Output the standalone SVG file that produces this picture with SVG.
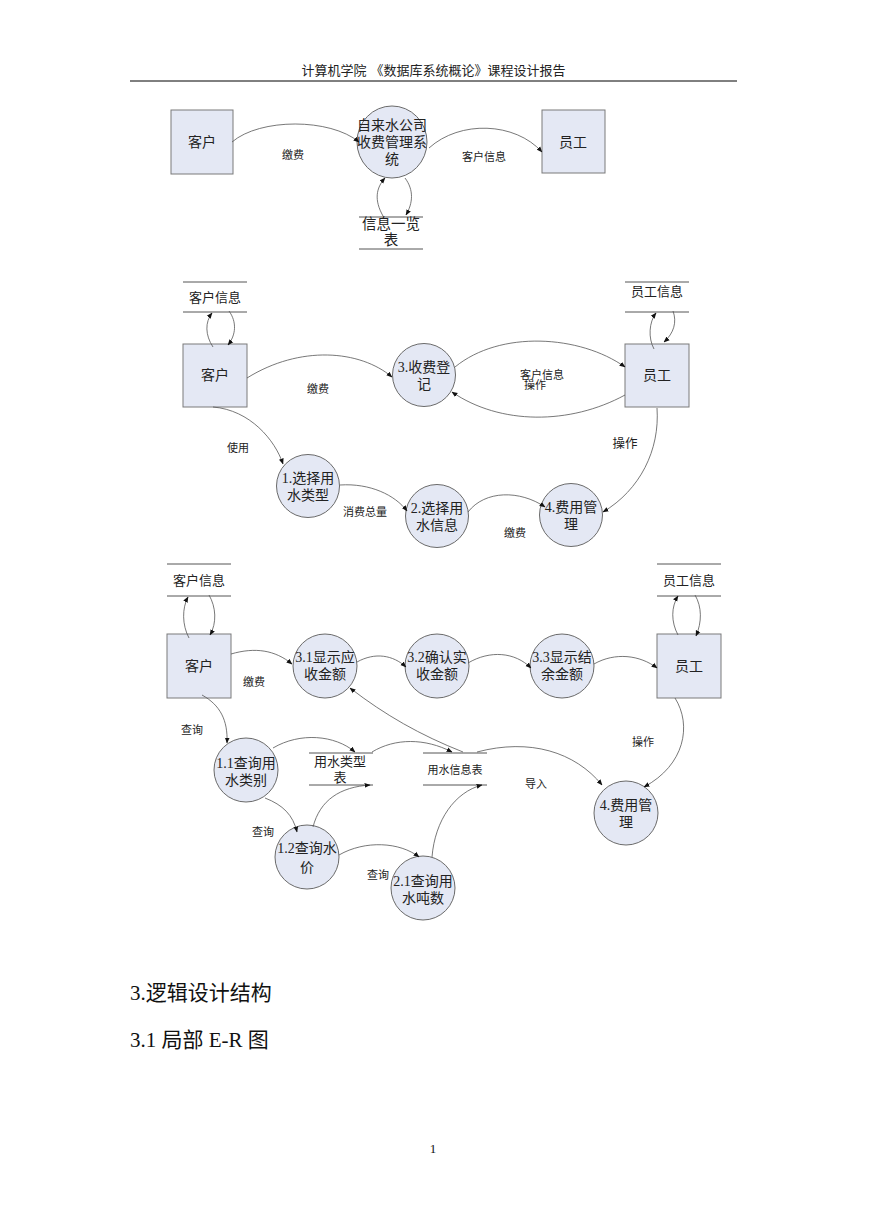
<svg xmlns="http://www.w3.org/2000/svg" width="869" height="1228" viewBox="0 0 869 1228">
<defs>
<marker id="ah" viewBox="0 0 10 10" refX="9" refY="5" markerUnits="userSpaceOnUse" markerWidth="6" markerHeight="6" orient="auto"><path d="M0,1 L10,5 L0,9 z" fill="#111"/></marker>
<style>
.t{font-family:'Liberation Serif','Noto Sans CJK SC',serif;fill:#222;text-anchor:middle}
.n{font-size:14px}
.s{font-size:13px}
.l{font-size:11px}
.box{fill:#E4E8F4;stroke:#7a7a7a;stroke-width:1}
.proc{fill:#E4E8F4;stroke:#6a6a6a;stroke-width:1}
.st{stroke:#555;stroke-width:1}
.c{fill:none;stroke:#555;stroke-width:0.8;marker-end:url(#ah)}
</style>
</defs>
<rect width="869" height="1228" fill="#fff"/>
<g id="header">
<text class="t" x="334" y="75" font-size="13">计算机学院</text>
<text class="t" x="468" y="75" font-size="13">《数据库系统概论》课程设计报告</text>
<line x1="130" y1="81" x2="737" y2="81" stroke="#000" stroke-width="1"/>
</g>
<!-- top diagram -->
<g id="top-customer"><rect class="box" x="171" y="110" width="62" height="64"/><text class="t n" x="202" y="147">客户</text></g>
<g id="top-system"><ellipse class="proc" cx="392" cy="142" rx="35" ry="36"/><text class="t n" x="392" y="130">自来水公司</text><text class="t n" x="392" y="147">收费管理系</text><text class="t n" x="392" y="164">统</text></g>
<g id="top-staff"><rect class="box" x="542" y="110" width="63" height="63"/><text class="t n" x="573" y="147">员工</text></g>
<g id="top-store"><line class="st" x1="359" y1="217" x2="423" y2="217"/><line class="st" x1="359" y1="249" x2="423" y2="249"/><text class="t" font-size="14.5" x="391" y="229">信息一览</text><text class="t" font-size="14.5" x="391" y="245">表</text></g>
<!-- middle diagram -->
<g id="mid-custinfo"><line class="st" x1="183" y1="282" x2="247" y2="282"/><line class="st" x1="183" y1="312" x2="247" y2="312"/><text class="t s" x="215" y="302">客户信息</text></g>
<g id="mid-customer"><rect class="box" x="183" y="344" width="64" height="63"/><text class="t n" x="215" y="380">客户</text></g>
<g id="mid-p3"><circle class="proc" cx="424" cy="375" r="31.5"/><text class="t n" x="424" y="372">3.收费登</text><text class="t n" x="424" y="389">记</text></g>
<g id="mid-staff"><rect class="box" x="625" y="344" width="64" height="63"/><text class="t n" x="657" y="380">员工</text></g>
<g id="mid-staffinfo"><line class="st" x1="625" y1="282" x2="689" y2="282"/><line class="st" x1="625" y1="312" x2="689" y2="312"/><text class="t s" x="657" y="296">员工信息</text></g>
<g id="mid-p1"><circle class="proc" cx="308" cy="486" r="31.5"/><text class="t n" x="308" y="483">1.选择用</text><text class="t n" x="308" y="500">水类型</text></g>
<g id="mid-p2"><circle class="proc" cx="437" cy="516" r="31.5"/><text class="t n" x="437" y="513">2.选择用</text><text class="t n" x="437" y="530">水信息</text></g>
<g id="mid-p4"><circle class="proc" cx="571" cy="515" r="31.5"/><text class="t n" x="571" y="512">4.费用管</text><text class="t n" x="571" y="529">理</text></g>
<!-- bottom diagram -->
<g id="bot-custinfo"><line class="st" x1="167" y1="564" x2="231" y2="564"/><line class="st" x1="167" y1="596" x2="231" y2="596"/><text class="t s" x="199" y="585">客户信息</text></g>
<g id="bot-customer"><rect class="box" x="167" y="634" width="64" height="64"/><text class="t n" x="199" y="671">客户</text></g>
<g id="bot-p31"><circle class="proc" cx="325" cy="666" r="32"/><text class="t n" x="325" y="662">3.1显示应</text><text class="t n" x="325" y="679">收金额</text></g>
<g id="bot-p32"><circle class="proc" cx="437" cy="666" r="32"/><text class="t n" x="437" y="662">3.2确认实</text><text class="t n" x="437" y="679">收金额</text></g>
<g id="bot-p33"><circle class="proc" cx="562" cy="666" r="32"/><text class="t n" x="562" y="662">3.3显示结</text><text class="t n" x="562" y="679">余金额</text></g>
<g id="bot-staff"><rect class="box" x="657" y="634" width="64" height="64"/><text class="t n" x="689" y="671">员工</text></g>
<g id="bot-staffinfo"><line class="st" x1="657" y1="564" x2="721" y2="564"/><line class="st" x1="657" y1="596" x2="721" y2="596"/><text class="t s" x="689" y="585">员工信息</text></g>
<g id="bot-p11"><circle class="proc" cx="246" cy="770" r="32"/><text class="t n" x="246" y="768">1.1查询用</text><text class="t n" x="246" y="785">水类别</text></g>
<g id="bot-typestore"><line class="st" x1="309" y1="753" x2="373" y2="753"/><line class="st" x1="309" y1="785" x2="373" y2="785"/><text class="t s" x="340" y="766">用水类型</text><text class="t s" x="340" y="782">表</text></g>
<g id="bot-infostore"><line class="st" x1="423" y1="753" x2="487" y2="753"/><line class="st" x1="423" y1="785" x2="487" y2="785"/><text class="t l" x="455" y="774">用水信息表</text></g>
<g id="bot-p12"><circle class="proc" cx="307" cy="857" r="32"/><text class="t n" x="307" y="853">1.2查询水</text><text class="t n" x="307" y="872">价</text></g>
<g id="bot-p21"><circle class="proc" cx="423" cy="888" r="32"/><text class="t n" x="423" y="886">2.1查询用</text><text class="t n" x="423" y="903">水吨数</text></g>
<g id="bot-p4"><circle class="proc" cx="626" cy="813" r="32"/><text class="t n" x="626" y="810">4.费用管</text><text class="t n" x="626" y="827">理</text></g>
<g id="connectors">
<path class="c" d="M232,142 C260,118 330,118 359,142"/>
<path class="c" d="M429,148 C460,120 515,122 542,152"/>
<path class="c" d="M383,216 C374,200 376,188 385,178"/>
<path class="c" d="M405,178 C414,190 413,203 406,215"/>
<path class="c" d="M213,347 C205,335 205,322 212,313"/>
<path class="c" d="M229,311 C237,322 236,335 228,345"/>
<path class="c" d="M247,378 C300,345 360,350 392,377"/>
<path class="c" d="M455,367 C500,330 580,335 625,367"/>
<path class="c" d="M625,395 C570,425 500,425 452,392"/>
<path class="c" d="M654,349 C648,338 649,322 656,313"/>
<path class="c" d="M673,311 C677,322 674,333 664,342"/>
<path class="c" d="M213,407 C250,410 275,440 283,464"/>
<path class="c" d="M340,485 C370,483 395,495 407,511"/>
<path class="c" d="M468,512 C485,490 520,490 545,507"/>
<path class="c" d="M657,408 C660,450 640,490 603,512"/>
<path class="c" d="M189,638 C182,625 182,608 188,597"/>
<path class="c" d="M209,595 C216,607 217,623 210,635"/>
<path class="c" d="M231,654 C255,647 275,650 292,664"/>
<path class="c" d="M357,662 C375,652 393,655 406,667"/>
<path class="c" d="M468,663 C490,650 515,652 531,668"/>
<path class="c" d="M594,664 C615,652 640,655 657,668"/>
<path class="c" d="M678,635 C671,622 671,607 678,596"/>
<path class="c" d="M695,595 C702,607 702,622 696,636"/>
<path class="c" d="M675,698 C692,725 685,765 644,787"/>
<path class="c" d="M202,695 C220,705 228,720 227,743"/>
<path class="c" d="M273,748 C300,732 335,735 355,752"/>
<path class="c" d="M372,752 C395,738 425,738 452,752"/>
<path class="c" d="M463,752 C420,735 385,715 350,688"/>
<path class="c" d="M477,752 C530,738 575,752 602,785"/>
<path class="c" d="M265,798 C283,805 293,815 297,832"/>
<path class="c" d="M313,827 C320,800 340,787 370,785"/>
<path class="c" d="M339,855 C365,840 400,842 419,857"/>
<path class="c" d="M432,857 C435,820 455,792 482,785"/>
</g>
<g id="labels">
<text class="t l" x="293" y="159">缴费</text>
<text class="t l" x="484" y="161">客户信息</text>
<text class="t l" x="318" y="393">缴费</text>
<text class="t l" x="542" y="379">客户信息</text>
<text class="t l" x="535" y="389">操作</text>
<text class="t l" x="238" y="452">使用</text>
<text class="t l" x="365" y="516">消费总量</text>
<text class="t l" x="515" y="537">缴费</text>
<text class="t" font-size="12.5" x="625" y="448">操作</text>
<text class="t l" x="254" y="686">缴费</text>
<text class="t l" x="192" y="734">查询</text>
<text class="t l" x="263" y="836">查询</text>
<text class="t l" x="378" y="879">查询</text>
<text class="t l" x="643" y="746">操作</text>
<text class="t l" x="536" y="788">导入</text>
</g>
<g id="body-text">
<text x="130" y="1000" font-family="'Liberation Serif','Noto Sans CJK SC',serif" font-size="21" fill="#111">3.逻辑设计结构</text>
<text x="130" y="1047" font-family="'Liberation Serif','Noto Sans CJK SC',serif" font-size="21" fill="#111">3.1 局部 E-R 图</text>
<text x="433" y="1153" font-family="'Liberation Serif',serif" font-size="13" fill="#111" text-anchor="middle">1</text>
</g>
</svg>
